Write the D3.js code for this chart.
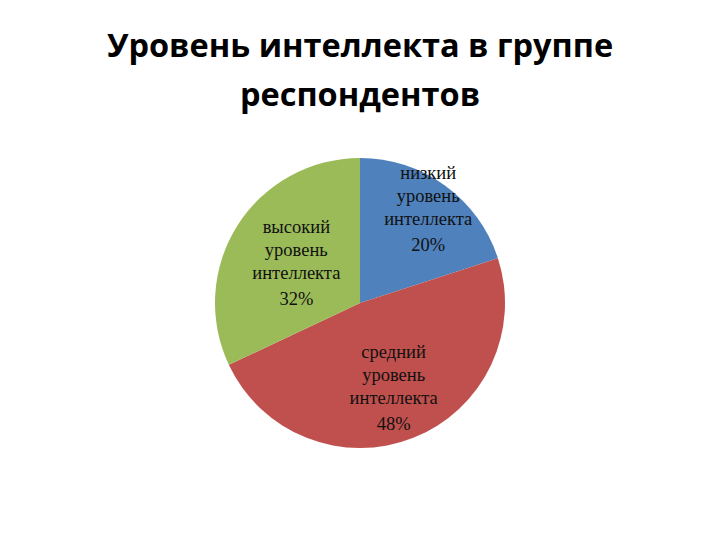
<!DOCTYPE html>
<html>
<head>
<meta charset="utf-8">
<script src="https://cdn.jsdelivr.net/npm/d3@7"></script>
<style>
  body { margin: 0; background: #fff; }
</style>
</head>
<body>
<script>
// data
var categories = ["низкий уровень интеллекта", "средний уровень интеллекта", "высокий уровень интеллекта"];
var values = [20, 48, 32];
var colors = ["#4F81BD", "#C0504D", "#9BBB59"];
var titleLines = ["Уровень интеллекта в группе", "респондентов"];

var width = 720, height = 540;
var cx = 360, cy = 303, radius = 145;
// how far out each label sits, as a share of the radius
var labelR = [0.8, 0.63, 0.52];

var svg = d3.select("body")
            .append("svg")
            .attr("width", width)
            .attr("height", height);

// title
svg.selectAll("text.title")
   .data(titleLines)
   .enter()
   .append("text")
   .attr("class", "title")
   .attr("x", width / 2)
   .attr("y", function(d, i) { return 57 + i * 49; })
   .attr("text-anchor", "middle")
   .style("font-family", "'Open Sans', sans-serif")
   .style("font-weight", "bold")
   .style("font-size", "32.5px")
   .style("fill", "#000")
   .text(function(d) { return d; });

var pie = d3.pie().sort(null).value(function(d) { return d; });
var arcs = pie(values);
var arc = d3.arc().innerRadius(0).outerRadius(radius);

var g = svg.append("g").attr("transform", "translate(" + cx + "," + cy + ")");

g.selectAll("path")
 .data(arcs)
 .enter()
 .append("path")
 .attr("d", arc)
 .style("fill", function(d, i) { return colors[i]; });

// labels: category words on three lines, then the percent
var labels = g.selectAll("text.lbl")
              .data(arcs)
              .enter()
              .append("text")
              .attr("class", "lbl")
              .attr("text-anchor", "middle")
              .style("font-family", "'Liberation Serif', 'Times New Roman', serif")
              .style("font-size", "18.5px")
              .style("fill", "#111")
              .attr("transform", function(d, i) {
                var r = radius * labelR[i];
                var a = (d.startAngle + d.endAngle) / 2;
                return "translate(" + (Math.sin(a) * r) + "," + (-Math.cos(a) * r) + ")";
              });

labels.each(function(d, i) {
  var lines = categories[i].split(" ");
  var total = d3.sum(values);
  lines.push(Math.round(d.data / total * 100) + "%");
  var t = d3.select(this);
  lines.forEach(function(s, k) {
    t.append("tspan")
     .attr("x", 0)
     .attr("y", -30 + k * 23 + (k === 3 ? 3 : 0))
     .text(s);
  });
});
</script>
</body>
</html>
